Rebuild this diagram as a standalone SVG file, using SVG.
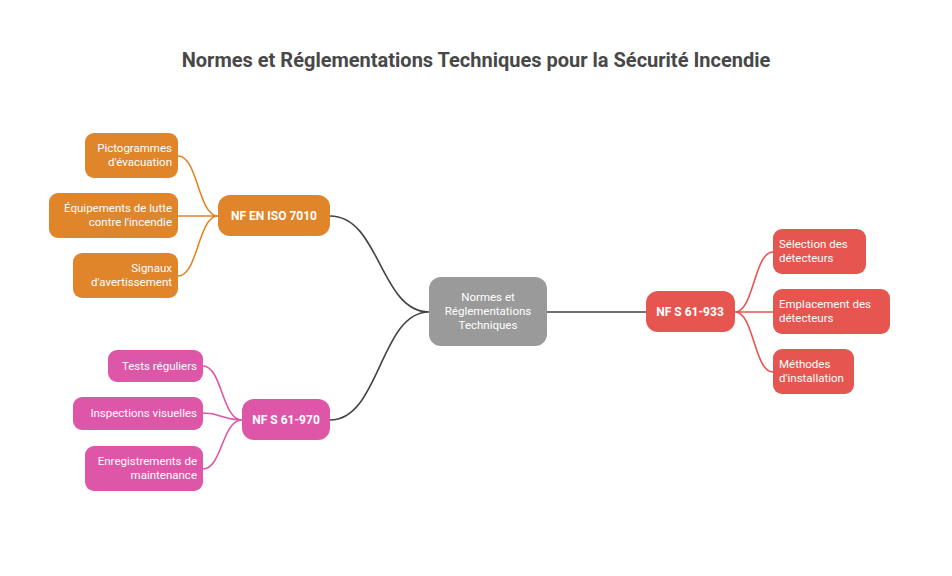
<svg xmlns="http://www.w3.org/2000/svg" width="952" height="576" viewBox="0 0 952 576">
<style>
text{font-family:Roboto,"Liberation Sans",sans-serif;fill:#fff;font-size:11.5px}
.t{font-size:20px;font-weight:bold;fill:#484848}
.b{font-weight:bold;font-size:12px}
.c{fill:none;stroke-width:1.6}
</style>
<rect width="952" height="576" fill="#fff"/>
<text class="t" x="476" y="67" text-anchor="middle">Normes et Réglementations Techniques pour la Sécurité Incendie</text>
<g id="connectors">
<path class="c" stroke="#444" d="M429,312 C380,312 380,216 330,216 M429,312 C380,312 380,420 330,420 M547,312 L646,312"/>
<path class="c" stroke="#e0852a" d="M218,216 C198,216 198,156 178,156 M218,216 L178,216 M218,216 C198,216 198,276 178,276"/>
<path class="c" stroke="#de56a8" d="M242,420 C222,420 222,366 203,366 M242,420 C222,420 222,413 203,413 M242,420 C222,420 222,469 203,469"/>
<path class="c" stroke="#e65550" d="M735,312 C754,312 754,252 773,252 M735,312 L773,312 M735,312 C754,312 754,372 773,372"/>
</g>
<g id="center"><rect x="429" y="277" width="118" height="69" rx="12" fill="#9a9a9a"/>
<text x="488" y="301" text-anchor="middle">Normes et</text><text x="488" y="315" text-anchor="middle">Réglementations</text><text x="488" y="329" text-anchor="middle">Techniques</text></g>
<g id="iso"><rect x="218" y="195" width="112" height="41" rx="12" fill="#e0852a"/><text class="b" x="274" y="220" text-anchor="middle">NF EN ISO 7010</text></g>
<g id="o1"><rect x="85" y="133" width="93" height="45" rx="9" fill="#e0852a"/><text x="172" y="152" text-anchor="end">Pictogrammes</text><text x="172" y="166" text-anchor="end">d'évacuation</text></g>
<g id="o2"><rect x="49" y="193" width="129" height="45" rx="9" fill="#e0852a"/><text x="172" y="212" text-anchor="end">Équipements de lutte</text><text x="172" y="226" text-anchor="end">contre l'incendie</text></g>
<g id="o3"><rect x="73" y="253" width="105" height="45" rx="9" fill="#e0852a"/><text x="172" y="272" text-anchor="end">Signaux</text><text x="172" y="286" text-anchor="end">d'avertissement</text></g>
<g id="s970"><rect x="242" y="399" width="88" height="41" rx="12" fill="#de56a8"/><text class="b" x="286" y="424" text-anchor="middle">NF S 61-970</text></g>
<g id="p1"><rect x="108" y="350" width="95" height="32" rx="9" fill="#de56a8"/><text x="197" y="370" text-anchor="end">Tests réguliers</text></g>
<g id="p2"><rect x="73" y="397" width="130" height="33" rx="9" fill="#de56a8"/><text x="197" y="417" text-anchor="end">Inspections visuelles</text></g>
<g id="p3"><rect x="85" y="446" width="118" height="45" rx="9" fill="#de56a8"/><text x="197" y="465" text-anchor="end">Enregistrements de</text><text x="197" y="479" text-anchor="end">maintenance</text></g>
<g id="s933"><rect x="646" y="291" width="89" height="41" rx="12" fill="#e65550"/><text class="b" x="690" y="316" text-anchor="middle">NF S 61-933</text></g>
<g id="r1"><rect x="773" y="229" width="93" height="45" rx="9" fill="#e65550"/><text x="779" y="248">Sélection des</text><text x="779" y="262">détecteurs</text></g>
<g id="r2"><rect x="773" y="289" width="117" height="45" rx="9" fill="#e65550"/><text x="779" y="308">Emplacement des</text><text x="779" y="322">détecteurs</text></g>
<g id="r3"><rect x="773" y="349" width="81" height="45" rx="9" fill="#e65550"/><text x="779" y="368">Méthodes</text><text x="779" y="382">d'installation</text></g>
</svg>
